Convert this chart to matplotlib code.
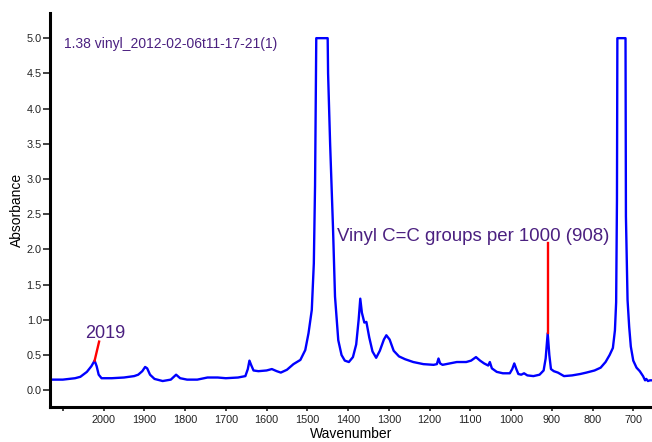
# LIBRARIES

import matplotlib
matplotlib.use("Agg")
import matplotlib.pyplot as plt


# SPECTRUM DATA

wavenumber = [2131, 2100, 2070, 2057, 2041, 2030, 2022, 2017, 2012, 2005, 1980,
              1950, 1925, 1915, 1905, 1898, 1893, 1886, 1875, 1855, 1835, 1822,
              1812, 1795, 1770, 1745, 1720, 1700, 1670, 1652, 1646, 1642, 1638,
              1632, 1620, 1600, 1587, 1575, 1565, 1550, 1534, 1517, 1505, 1497,
              1489, 1484, 1481, 1479, 1478, 1450, 1449, 1444, 1437, 1432,
              1424, 1416, 1408, 1398, 1388, 1380, 1374, 1370, 1366, 1360, 1355,
              1348, 1340, 1331, 1322, 1312, 1306, 1298, 1288, 1275, 1260, 1240,
              1215, 1190, 1182, 1178, 1174, 1168, 1150, 1133, 1110, 1098, 1086,
              1076, 1066, 1056, 1052, 1047, 1035, 1020, 1003, 997, 992, 987, 982,
              975, 968, 960, 945, 930, 920, 915, 910, 906, 902, 895, 885, 870,
              850, 830, 815, 795, 780, 768, 758, 750, 745, 742, 740, 739, 719,
              718, 714, 710, 706, 700, 692, 684, 676, 671, 668, 664, 659, 656]

absorbance = [0.15, 0.15, 0.17, 0.19, 0.26, 0.34, 0.42, 0.34, 0.22, 0.17, 0.17,
              0.18, 0.20, 0.22, 0.27, 0.33, 0.31, 0.22, 0.16, 0.13, 0.15, 0.22,
              0.17, 0.15, 0.15, 0.18, 0.18, 0.17, 0.18, 0.20, 0.30, 0.42, 0.36,
              0.28, 0.27, 0.28, 0.30, 0.27, 0.25, 0.29, 0.37, 0.43, 0.57, 0.81,
              1.14, 1.80, 2.90, 4.30, 5.00, 5.00, 4.50, 3.50, 2.32, 1.33,
              0.71, 0.50, 0.42, 0.40, 0.47, 0.65, 1.00, 1.30, 1.10, 0.96, 0.97,
              0.75, 0.55, 0.46, 0.56, 0.72, 0.78, 0.72, 0.56, 0.48, 0.44, 0.40,
              0.37, 0.36, 0.37, 0.45, 0.38, 0.36, 0.38, 0.40, 0.40, 0.42, 0.47,
              0.42, 0.38, 0.35, 0.40, 0.31, 0.26, 0.24, 0.24, 0.30, 0.38, 0.30, 0.23,
              0.22, 0.24, 0.21, 0.20, 0.22, 0.28, 0.45, 0.81, 0.50, 0.30, 0.27, 0.25, 0.20,
              0.21, 0.23, 0.25, 0.28, 0.32, 0.40, 0.50, 0.60, 0.85, 1.25, 2.70, 5.00, 5.00,
              2.47, 1.28, 0.90, 0.62, 0.42, 0.32, 0.27, 0.20, 0.14, 0.16, 0.13, 0.14, 0.14]

# PEAK MARKERS

peak_2019 = [2022, 2011]
peak_2019_abs = [0.42, 0.69]
vinyl_wn = [910, 910]
vinyl_abs = [0.81, 2.09]

x_ticks = list(range(2100, 600, -100))
x_labels = [''] + [str(v) for v in x_ticks[1:]]
y_ticks = [i * 0.5 for i in range(11)]

purple = '#4b2080'


# FIGURE

plt.rcParams['font.family'] = ['Liberation Sans', 'DejaVu Sans']

fig = plt.figure(figsize=(6.52, 4.42), dpi=100)
ax = fig.add_axes([0.077, 0.079, 0.923, 0.892])

ax.plot(wavenumber, absorbance, color='#0000ff', lw=1.7, solid_joinstyle='round')
ax.plot(peak_2019, peak_2019_abs, color='#ff0000', lw=1.7)
ax.plot(vinyl_wn, vinyl_abs, color='#ff0000', lw=1.7)

ax.text(1996, 0.74, '2019', color=purple, fontsize=13, ha='center', va='baseline')
ax.text(1427, 2.12, 'Vinyl C=C groups per 1000 (908)', color=purple,
        fontsize=13.4, ha='left', va='baseline')
ax.text(0.023, 0.912, '1.38 vinyl_2012-02-06t11-17-21(1)', color=purple,
        fontsize=10, ha='left', va='baseline', transform=ax.transAxes)

ax.set_xlim(2131, 654)
ax.set_ylim(-0.24, 5.36)

ax.set_xticks(x_ticks)
ax.set_xticklabels(x_labels)
ax.set_yticks(y_ticks)
ax.set_yticklabels(['%.1f' % v for v in y_ticks])
ax.tick_params(axis='both', labelsize=7.8, colors='#222222', width=1.2)
ax.tick_params(axis='y', length=5, pad=1)
ax.tick_params(axis='x', length=3, pad=3)

for side in ['top', 'right']:
    ax.spines[side].set_visible(False)
for side in ['left', 'bottom']:
    ax.spines[side].set_linewidth(2.2)

ax.set_xlabel('Wavenumber', fontsize=10, labelpad=1)
ax.set_ylabel('Absorbance', fontsize=10, labelpad=2)

fig.savefig('out.png', dpi=100)
